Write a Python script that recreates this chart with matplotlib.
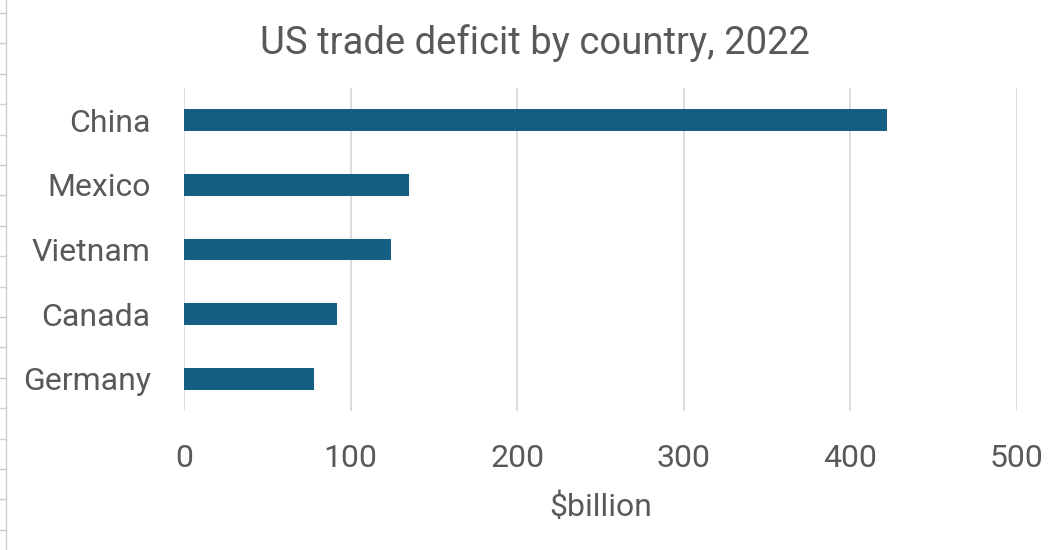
import matplotlib
matplotlib.use("Agg")
import matplotlib.pyplot as plt
from matplotlib.lines import Line2D

countries = ["China", "Mexico", "Vietnam", "Canada", "Germany"]
deficits = [422, 135, 124, 92, 78]
xticks = [0, 100, 200, 300, 400, 500]

title = "US trade deficit by country, 2022"
xlabel = "$billion"

bar_color = "#156082"
text_color = "#595959"
grid_color = "#D9D9D9"

plt.rcParams["font.family"] = ["Roboto", "DejaVu Sans"]

fig = plt.figure(figsize=(10.64, 5.5), dpi=100)
ax = fig.add_axes([184/1064, 1-411/550, (1017-184)/1064, (411-88)/550])

ypos = list(range(len(countries)))
ax.barh(ypos, deficits, height=0.34, color=bar_color, zorder=3)
ax.set_ylim(len(countries)-0.5, -0.5)
ax.set_xlim(0, 500)
ax.set_yticks(ypos)
ax.set_yticklabels(countries)
ax.set_xticks(xticks)
ax.set_xticklabels([str(t) for t in xticks])
ax.tick_params(axis="both", length=0, colors=text_color, labelsize=23)
ax.tick_params(axis="y", pad=24)
ax.tick_params(axis="x", pad=24)
ax.xaxis.grid(True, color=grid_color, linewidth=1.3, zorder=0)
for s in ax.spines.values():
    s.set_visible(False)

ax.set_xlabel(xlabel, color=text_color, fontsize=23, labelpad=14)
fig.text(535/1064, 1-43/550, title, ha="center", va="center", fontsize=27.5, color=text_color)

# spreadsheet cell borders at left edge
fig.add_artist(Line2D([6/1064, 6/1064], [0, 1], color="#D0D0D0", lw=1.0, transform=fig.transFigure))
for k in range(19):
    y = 13 + 30.4 * k
    if y < 550:
        fig.add_artist(Line2D([0, 6/1064], [1-y/550, 1-y/550], color="#D0D0D0", lw=1.0, transform=fig.transFigure))

fig.savefig("out.png", dpi=100)
